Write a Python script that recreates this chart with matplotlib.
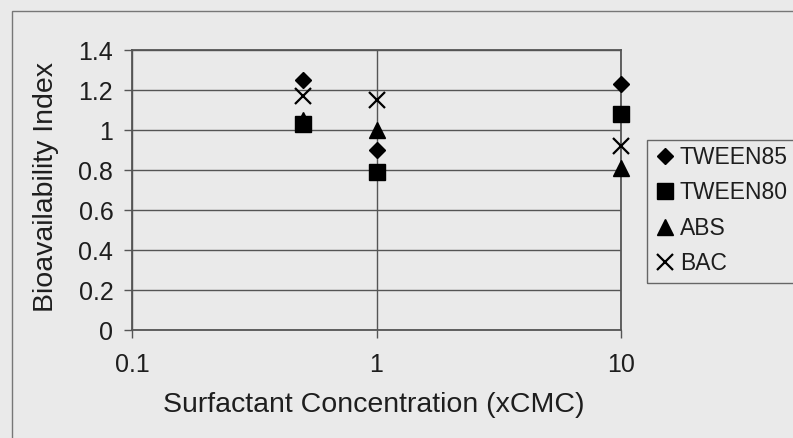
import matplotlib
matplotlib.use("Agg")
import matplotlib.pyplot as plt
from matplotlib.patches import Rectangle

plt.rcParams['font.family'] = ['Liberation Sans', 'DejaVu Sans']

# Data
conc = [0.5, 1, 10]
tween85 = [1.25, 0.90, 1.23]
tween80 = [1.03, 0.79, 1.08]
abs_ = [1.05, 1.00, 0.81]
bac = [1.17, 1.15, 0.92]
series_names = ["TWEEN85", "TWEEN80", "ABS", "BAC"]
y_ticks = [0, 0.2, 0.4, 0.6, 0.8, 1, 1.2, 1.4]
y_ticklabels = ["0", "0.2", "0.4", "0.6", "0.8", "1", "1.2", "1.4"]
x_ticks = [0.1, 1, 10]
x_ticklabels = ["0.1", "1", "10"]

W, H = 793, 438
bg = '#eaeaea'
txt = '#1e1e1e'
fig = plt.figure(figsize=(W / 100, H / 100), dpi=100, facecolor=bg)

L, R, T, B = 132, 621, 50, 330
ax = fig.add_axes([L / W, 1 - B / H, (R - L) / W, (B - T) / H])
ax.set_facecolor(bg)
ax.set_xscale('log')
ax.set_xlim(0.1, 10)
ax.set_ylim(0, 1.4)
ax.set_yticks(y_ticks)
ax.set_yticklabels(y_ticklabels)
ax.set_xticks(x_ticks)
ax.set_xticklabels(x_ticklabels)
ax.minorticks_off()
ax.tick_params(axis='both', direction='out', length=5.5, width=1, color='#555555',
               labelsize=18, labelcolor=txt)
ax.tick_params(axis='y', pad=8)
ax.tick_params(axis='x', pad=11)
ax.grid(True, which='major', color='#555555', linewidth=1)
ax.set_axisbelow(True)
for s in ax.spines.values():
    s.set_color('#555555')
    s.set_linewidth(1.3)

k = dict(linestyle='none', color='black', clip_on=False, zorder=5)
ax.plot(conc, tween85, marker='D', markersize=8, label=series_names[0], **k)
ax.plot(conc, tween80, marker='s', markersize=11, label=series_names[1], **k)
ax.plot(conc, abs_, marker='^', markersize=12, label=series_names[2], **k)
ax.plot(conc, bac, marker='x', markersize=11, markeredgewidth=1.6, label=series_names[3], **k)

ax.set_xlabel("Surfactant Concentration (xCMC)", fontsize=20.5, color=txt)
ax.xaxis.set_label_coords(0.495, -0.22)
ax.set_ylabel("Bioavailability Index", fontsize=20.5, color=txt)
ax.yaxis.set_label_coords(-0.149, 0.511)

# legend box
fig.patches.append(Rectangle((647 / W, 1 - 283 / H), (805 - 647) / W, (283 - 140) / H,
                             transform=fig.transFigure, fill=False, edgecolor='#666666',
                             linewidth=1, zorder=1))
leg = fig.legend(loc='upper left', bbox_to_anchor=(650 / W, 1 - 139 / H), frameon=False,
                 fontsize=16.5, handlelength=0.7, handletextpad=0.3, labelspacing=0.54,
                 borderpad=0.3, borderaxespad=0, labelcolor=txt)

# outer frame
fig.patches.append(Rectangle((12 / W, -0.05), 1.1, 1 - 11 / H + 0.05,
                             transform=fig.transFigure, fill=False, edgecolor='#777777',
                             linewidth=1, zorder=1))

fig.savefig('out.png', dpi=100, facecolor=bg)
